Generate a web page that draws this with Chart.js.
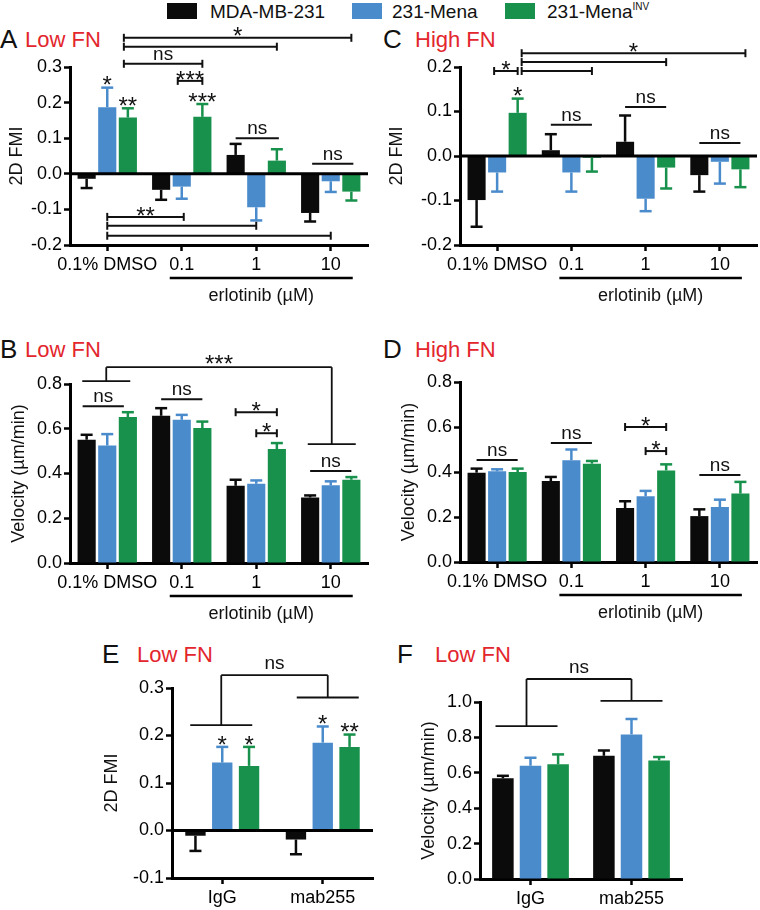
<!DOCTYPE html>
<html>
<head>
<meta charset="utf-8">
<script src="https://cdn.jsdelivr.net/npm/chart.js@4.4.1/dist/chart.umd.min.js"></script>
<style>
  body { margin: 0; background: #fff; font-family: "Liberation Sans", Arial, sans-serif; }
  #wrap { position: relative; width: 760px; height: 910px; overflow: hidden; }
  canvas { position: absolute; }
  .t { position: absolute; white-space: nowrap; line-height: 1; color: #111; }
  .red { color: #e3262d; }
  .box { position: absolute; top: 3px; width: 30px; height: 16px; }
  sup { font-size: 10px; vertical-align: 8px; }
</style>
</head>
<body>
<div id="wrap">
  <div class="box" style="left:167px;background:#0b0b0b"></div>
  <div class="t" style="left:210px;top:2px;font-size:19px">MDA-MB-231</div>
  <div class="box" style="left:352px;background:#4a8bcc"></div>
  <div class="t" style="left:392px;top:2px;font-size:19px">231-Mena</div>
  <div class="box" style="left:505px;background:#17914b"></div>
  <div class="t" style="left:547px;top:2px;font-size:19px">231-Mena<sup>INV</sup></div>

  <div class="t" style="left:0;top:26px;font-size:26px">A</div>
  <div class="t red" style="left:25px;top:29px;font-size:22px">Low FN</div>
  <div class="t" style="left:383px;top:26px;font-size:26px">C</div>
  <div class="t red" style="left:415px;top:29px;font-size:22px">High FN</div>
  <div class="t" style="left:0;top:336px;font-size:26px">B</div>
  <div class="t red" style="left:25px;top:339px;font-size:22px">Low FN</div>
  <div class="t" style="left:383px;top:336px;font-size:26px">D</div>
  <div class="t red" style="left:415px;top:339px;font-size:22px">High FN</div>
  <div class="t" style="left:102px;top:641px;font-size:26px">E</div>
  <div class="t red" style="left:137px;top:644px;font-size:22px">Low FN</div>
  <div class="t" style="left:397px;top:641px;font-size:26px">F</div>
  <div class="t red" style="left:435px;top:644px;font-size:22px">Low FN</div>

  <canvas id="chartA" width="380" height="290" style="left:0;top:24px"></canvas>
  <canvas id="chartC" width="380" height="290" style="left:380px;top:24px"></canvas>
  <canvas id="chartB" width="380" height="305" style="left:0;top:320px"></canvas>
  <canvas id="chartD" width="380" height="305" style="left:380px;top:320px"></canvas>
  <canvas id="chartE" width="380" height="280" style="left:0;top:630px"></canvas>
  <canvas id="chartF" width="380" height="280" style="left:380px;top:630px"></canvas>
</div>
<script>
const doses = ['0.1% DMSO', '0.1', '1', '10'];
const antibodies = ['IgG', 'mab255'];
const cellLines = ['MDA-MB-231', '231-Mena', '231-Mena INV'];

// A - 2D FMI, low FN
const fmiLowMDA = [-0.014, -0.045, 0.053, -0.110];
const fmiLowMena = [0.187, -0.036, -0.094, -0.021];
const fmiLowInv = [0.158, 0.160, 0.037, -0.050];
const fmiLowMDAErr = [0.026, 0.028, 0.031, 0.024];
const fmiLowMenaErr = [0.055, 0.034, 0.037, 0.030];
const fmiLowInvErr = [0.026, 0.036, 0.032, 0.025];

// C - 2D FMI, high FN
const fmiHighMDA = [-0.099, 0.013, 0.032, -0.043];
const fmiHighMena = [-0.037, -0.037, -0.096, -0.013];
const fmiHighInv = [0.097, -0.004, -0.026, -0.030];
const fmiHighMDAErr = [0.060, 0.036, 0.059, 0.037];
const fmiHighMenaErr = [0.043, 0.043, 0.028, 0.049];
const fmiHighInvErr = [0.032, 0.031, 0.047, 0.040];

// B - velocity, low FN
const velLowMDA = [0.551, 0.658, 0.345, 0.293];
const velLowMena = [0.525, 0.640, 0.354, 0.347];
const velLowInv = [0.652, 0.603, 0.509, 0.372];
const velLowMDAErr = [0.022, 0.034, 0.027, 0.009];
const velLowMenaErr = [0.051, 0.022, 0.015, 0.018];
const velLowInvErr = [0.022, 0.029, 0.027, 0.012];

// D - velocity, high FN
const velHighMDA = [0.397, 0.360, 0.240, 0.204];
const velHighMena = [0.403, 0.452, 0.292, 0.244];
const velHighInv = [0.400, 0.437, 0.407, 0.304];
const velHighMDAErr = [0.018, 0.018, 0.030, 0.030];
const velHighMenaErr = [0.009, 0.048, 0.024, 0.033];
const velHighInvErr = [0.015, 0.012, 0.027, 0.052];

// E - 2D FMI with antibodies
const fmiAbMDA = [-0.011, -0.019];
const fmiAbMena = [0.143, 0.185];
const fmiAbInv = [0.136, 0.176];
const fmiAbMDAErr = [0.032, 0.031];
const fmiAbMenaErr = [0.033, 0.034];
const fmiAbInvErr = [0.040, 0.026];

// F - velocity with antibodies
const velAbMDA = [0.569, 0.696];
const velAbMena = [0.640, 0.817];
const velAbInv = [0.648, 0.670];
const velAbMDAErr = [0.014, 0.030];
const velAbMenaErr = [0.045, 0.087];
const velAbInvErr = [0.056, 0.019];

const colors = ['#0b0b0b', '#4a8bcc', '#17914b'];
const FONT = '"Liberation Sans", Arial, sans-serif';
const INK = '#111';

function decor(o) {
  return {
    id: 'decor',
    afterDatasetsDraw(chart) {
      const ctx = chart.ctx;
      const area = chart.chartArea;
      const ys = chart.scales.y;
      const xs = chart.scales.x;
      const barX = (r) => chart.getDatasetMeta(r[0]).data[r[1]].x + (r[2] || 0);
      const errEnd = (d, i) => {
        const v = chart.data.datasets[d].data[i];
        const e = chart.data.datasets[d].err[i];
        return ys.getPixelForValue(v < 0 ? v - e : v + e);
      };
      const hline = (x1, x2, y) => {
        ctx.beginPath(); ctx.moveTo(x1, y); ctx.lineTo(x2, y); ctx.stroke();
      };
      const vline = (x, y1, y2) => {
        ctx.beginPath(); ctx.moveTo(x, y1); ctx.lineTo(x, y2); ctx.stroke();
      };
      const label = (txt, x, y) => {
        ctx.textAlign = 'center';
        ctx.textBaseline = 'alphabetic';
        if (txt.indexOf('*') >= 0) {
          ctx.font = '24px ' + FONT;
          ctx.fillText(txt, x, y - 7 + 0.57 * 24);
        } else {
          ctx.font = '19px ' + FONT;
          ctx.fillText(txt, x, y - 4);
        }
      };
      ctx.save();

      // zero line
      if (o.zero) {
        ctx.strokeStyle = '#000';
        ctx.lineWidth = 3;
        hline(area.left, area.right, ys.getPixelForValue(0));
      }

      // error bars
      chart.data.datasets.forEach((ds, d) => {
        chart.getDatasetMeta(d).data.forEach((bar, i) => {
          const end = errEnd(d, i);
          ctx.strokeStyle = ds.backgroundColor;
          ctx.lineWidth = 2.5;
          vline(bar.x, bar.y, end);
          hline(bar.x - 6, bar.x + 6, end);
        });
      });

      // significance marks
      ctx.strokeStyle = INK;
      ctx.fillStyle = INK;
      o.notes.forEach(n => {
        ctx.lineWidth = 2;
        if (n.k === 'star') {
          const x = barX(n.a);
          label(n.txt, x, errEnd(n.a[0], n.a[1]) - 1);
        } else if (n.k === 'line' || n.k === 'cap') {
          const x1 = barX(n.a), x2 = barX(n.b), y = ys.getPixelForValue(n.y);
          hline(x1, x2, y);
          if (n.k === 'cap') { vline(x1, y - 4, y + 4); vline(x2, y - 4, y + 4); }
          if (n.txt) label(n.txt, (x1 + x2) / 2, y);
        } else if (n.k === 'group') {
          ctx.lineWidth = 1.8;
          const top = ys.getPixelForValue(n.top);
          const xl = xs.getPixelForValue(n.c[0]) + n.off[0];
          const xr = xs.getPixelForValue(n.c[1]) + n.off[1];
          const yl = ys.getPixelForValue(n.legs[0]);
          const yr = ys.getPixelForValue(n.legs[1]);
          hline(xl, xr, top);
          vline(xl, top, yl);
          vline(xr, top, yr);
          hline(xl - n.half, xl + n.half, yl);
          hline(xr - n.half, xr + n.half, yr);
          label(n.txt, (xl + xr) / 2, top - 2);
        }
      });

      // axis title
      ctx.save();
      ctx.translate(area.left - o.titleOff, (area.top + area.bottom) / 2);
      ctx.rotate(-Math.PI / 2);
      ctx.font = '18px ' + FONT;
      ctx.textAlign = 'center';
      ctx.textBaseline = 'middle';
      ctx.fillText(o.title, 0, 0);
      ctx.restore();

      // erlotinib dose bar
      if (o.erlotinib) {
        const x1 = xs.getPixelForValue(1) - 12;
        const x2 = xs.getPixelForValue(3) + 22;
        const y = area.bottom + 33;
        ctx.strokeStyle = '#000';
        ctx.lineWidth = 2.5;
        hline(x1, x2, y);
        ctx.font = '18px ' + FONT;
        ctx.textAlign = 'center';
        ctx.textBaseline = 'alphabetic';
        ctx.fillText('erlotinib (µM)', (x1 + x2) / 2, y + 23);
      }
      ctx.restore();
    }
  };
}

function buildPanel(id, cats, series, errs, o) {
  const cv = document.getElementById(id);
  const axisGrid = {
    display: true, drawOnChartArea: false, offset: false,
    tickLength: 6, tickColor: '#000', tickWidth: 2.5
  };
  const axisBorder = { display: true, color: '#000', width: 3 };
  const tickFont = { family: FONT, size: 18 };
  return new Chart(cv, {
    type: 'bar',
    data: {
      labels: cats,
      datasets: series.map((d, k) => ({
        label: cellLines[k],
        data: d,
        err: errs[k],
        backgroundColor: colors[k],
        borderWidth: 0,
        categoryPercentage: o.cat,
        barPercentage: o.bar
      }))
    },
    options: {
      responsive: false,
      animation: false,
      layout: { padding: { left: o.left - 60, right: cv.width - o.right, top: o.top, bottom: 0 } },
      plugins: { legend: { display: false }, tooltip: { enabled: false } },
      scales: {
        x: {
          grid: axisGrid,
          border: axisBorder,
          ticks: { color: '#000', font: tickFont, padding: 3, maxRotation: 0, minRotation: 0, autoSkip: false },
          afterFit: s => { s.height = cv.height - o.bottom; }
        },
        y: {
          min: o.min,
          max: o.max,
          grid: axisGrid,
          border: axisBorder,
          ticks: {
            stepSize: o.step, color: '#000', font: tickFont, padding: 2,
            callback: v => (Math.abs(v) < 1e-9 ? 0 : v).toFixed(1)
          },
          afterFit: s => { s.width = 60; }
        }
      }
    },
    plugins: [decor(o)]
  });
}

buildPanel('chartA', doses, [fmiLowMDA, fmiLowMena, fmiLowInv], [fmiLowMDAErr, fmiLowMenaErr, fmiLowInvErr], {
  left: 70, right: 368, top: 43, bottom: 221, min: -0.2, max: 0.3, step: 0.1,
  cat: 0.83, bar: 0.88, zero: true, erlotinib: true, title: '2D FMI', titleOff: 53,
  notes: [
    { k: 'cap', a: [2, 0, -4], b: [2, 3], y: 0.382, txt: '*' },
    { k: 'cap', a: [2, 0, -4], b: [2, 2], y: 0.357 },
    { k: 'cap', a: [2, 0, -4], b: [2, 1], y: 0.309, txt: 'ns' },
    { k: 'cap', a: [1, 1, -4], b: [2, 1], y: 0.261, txt: '***' },
    { k: 'star', a: [1, 0], txt: '*' },
    { k: 'star', a: [2, 0], txt: '**' },
    { k: 'star', a: [2, 1], txt: '***' },
    { k: 'line', a: [0, 2], b: [2, 2, 2], y: 0.100, txt: 'ns' },
    { k: 'line', a: [0, 3, 2], b: [2, 3, 2], y: 0.028, txt: 'ns' },
    { k: 'cap', a: [1, 0], b: [1, 1, 2], y: -0.121, txt: '**' },
    { k: 'cap', a: [1, 0], b: [1, 2], y: -0.146 },
    { k: 'cap', a: [1, 0], b: [1, 3], y: -0.174 }
  ]
});

buildPanel('chartC', doses, [fmiHighMDA, fmiHighMena, fmiHighInv], [fmiHighMDAErr, fmiHighMenaErr, fmiHighInvErr], {
  left: 80, right: 377, top: 43, bottom: 221, min: -0.2, max: 0.2, step: 0.1,
  cat: 0.83, bar: 0.88, zero: true, erlotinib: true, title: '2D FMI', titleOff: 63,
  notes: [
    { k: 'star', a: [2, 0], txt: '*' },
    { k: 'cap', a: [1, 0, -3], b: [2, 0], y: 0.191, txt: '*' },
    { k: 'cap', a: [2, 0, 4], b: [2, 1], y: 0.191 },
    { k: 'cap', a: [2, 0, 4], b: [2, 2], y: 0.211 },
    { k: 'cap', a: [2, 0, 4], b: [2, 3, 5], y: 0.231, txt: '*' },
    { k: 'line', a: [0, 1], b: [2, 1], y: 0.070, txt: 'ns' },
    { k: 'line', a: [0, 2], b: [2, 2], y: 0.110, txt: 'ns' },
    { k: 'line', a: [0, 3], b: [2, 3], y: 0.029, txt: 'ns' }
  ]
});

buildPanel('chartB', doses, [velLowMDA, velLowMena, velLowInv], [velLowMDAErr, velLowMenaErr, velLowInvErr], {
  left: 70, right: 368, top: 64, bottom: 243, min: 0, max: 0.8, step: 0.2,
  cat: 0.83, bar: 0.88, zero: false, erlotinib: true, title: 'Velocity (µm/min)', titleOff: 51,
  notes: [
    { k: 'group', c: [0, 3], top: 0.875, legs: [0.8125, 0.531], half: 24, off: [-1, 1], txt: '***' },
    { k: 'line', a: [0, 0, -4], b: [2, 0, -4], y: 0.701, txt: 'ns' },
    { k: 'line', a: [0, 1], b: [2, 1], y: 0.732, txt: 'ns' },
    { k: 'cap', a: [0, 2], b: [2, 2], y: 0.674, txt: '*' },
    { k: 'cap', a: [1, 2], b: [2, 2], y: 0.580, txt: '*' },
    { k: 'line', a: [0, 3], b: [2, 3], y: 0.411, txt: 'ns' }
  ]
});

buildPanel('chartD', doses, [velHighMDA, velHighMena, velHighInv], [velHighMDAErr, velHighMenaErr, velHighInvErr], {
  left: 80, right: 377, top: 62, bottom: 242, min: 0, max: 0.8, step: 0.2,
  cat: 0.83, bar: 0.88, zero: false, erlotinib: true, title: 'Velocity (µm/min)', titleOff: 51,
  notes: [
    { k: 'line', a: [0, 0], b: [2, 0], y: 0.453, txt: 'ns' },
    { k: 'line', a: [0, 1], b: [2, 1], y: 0.529, txt: 'ns' },
    { k: 'cap', a: [0, 2], b: [2, 2], y: 0.600, txt: '*' },
    { k: 'cap', a: [1, 2], b: [2, 2], y: 0.493, txt: '*' },
    { k: 'line', a: [0, 3], b: [2, 3], y: 0.387, txt: 'ns' }
  ]
});

buildPanel('chartE', antibodies, [fmiAbMDA, fmiAbMena, fmiAbInv], [fmiAbMDAErr, fmiAbMenaErr, fmiAbInvErr], {
  left: 172, right: 373, top: 58, bottom: 248, min: -0.1, max: 0.3, step: 0.1,
  cat: 0.8, bar: 0.76, zero: true, erlotinib: false, title: '2D FMI', titleOff: 60,
  notes: [
    { k: 'star', a: [1, 0], txt: '*' },
    { k: 'star', a: [2, 0], txt: '*' },
    { k: 'star', a: [1, 1], txt: '*' },
    { k: 'star', a: [2, 1], txt: '**' },
    { k: 'group', c: [0, 1], top: 0.327, legs: [0.222, 0.280], half: 31, off: [-1, 5], txt: 'ns' }
  ]
});

buildPanel('chartF', antibodies, [velAbMDA, velAbMena, velAbInv], [velAbMDAErr, velAbMenaErr, velAbInvErr], {
  left: 100, right: 302, top: 72, bottom: 249, min: 0, max: 1.0, step: 0.2,
  cat: 0.82, bar: 0.78, zero: false, erlotinib: false, title: 'Velocity (µm/min)', titleOff: 51,
  notes: [
    { k: 'group', c: [0, 1], top: 1.13, legs: [0.864, 1.006], half: 31, off: [-4, 0], txt: 'ns' }
  ]
});
</script>
</body>
</html>
